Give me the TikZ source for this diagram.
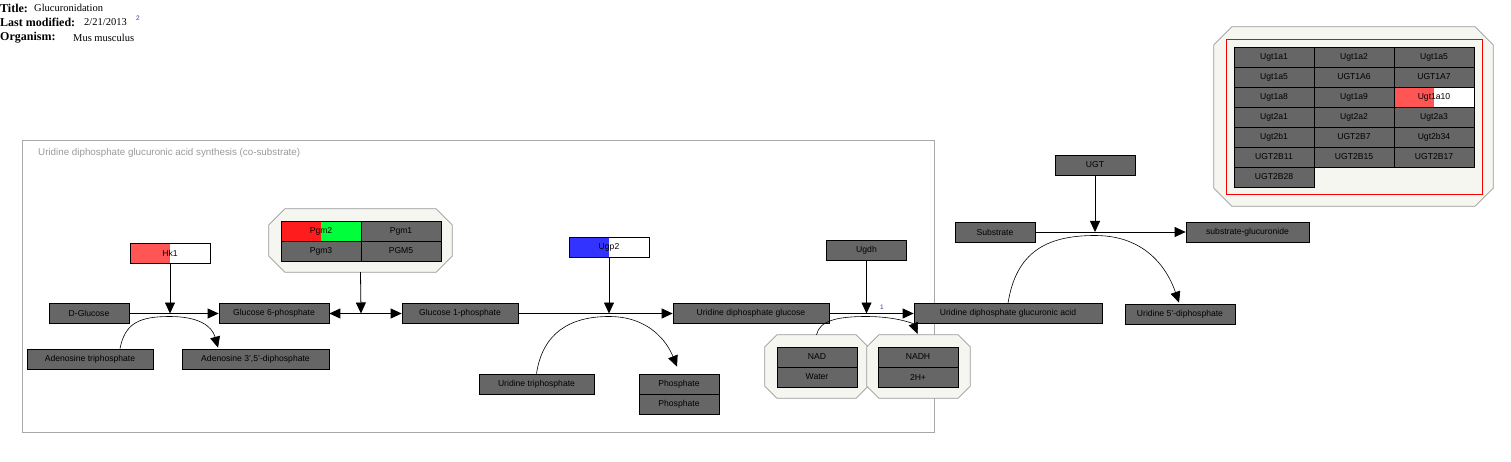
\documentclass[tikz,border=0pt]{standalone}
\usepackage{fontspec}
\setmainfont{Liberation Sans}
\newfontfamily\titlefont{Liberation Serif}
\usetikzlibrary{arrows.meta,calc}
\definecolor{gnode}{HTML}{666666}
\definecolor{hkred}{HTML}{FF5555}
\definecolor{pgred}{HTML}{FF1C1C}
\definecolor{pggreen}{HTML}{00FF3A}
\definecolor{ugblue}{HTML}{3333FF}
\definecolor{grpfill}{HTML}{F6F6F0}
\definecolor{grpline}{HTML}{999999}
\definecolor{bigline}{HTML}{A8A8A8}
\definecolor{lblblue}{HTML}{3333AA}
\newcommand\octoshape[2]{\filldraw[draw=grpline, fill=grpfill, line width=0.7pt]
  ($(#1.north west)+(#2,0)$) -- ($(#1.north east)+(-#2,0)$) -- ($(#1.north east)+(0,#2)$) --
  ($(#1.south east)+(0,-#2)$) -- ($(#1.south east)+(-#2,0)$) -- ($(#1.south west)+(#2,0)$) --
  ($(#1.south west)+(0,-#2)$) -- ($(#1.north west)+(0,#2)$) -- cycle;}
\begin{document}
\begin{tikzpicture}[x=1pt,y=-1pt,
  gene/.style={draw=black, line width=0.7pt, fill=gnode, inner sep=0pt, minimum height=20pt, minimum width=80pt, font=\fontsize{8.6}{9}\selectfont, text=black},
  split/.style={gene, fill=white, path picture={\fill[#1] (path picture bounding box.south west) rectangle (path picture bounding box.north);}},
  grpbox/.style={inner sep=0pt},
  rx/.style={line width=0.8pt, -{Triangle[length=11pt,width=10pt]}},
  arc/.style={line width=0.6pt, -{Triangle[length=11pt,width=10pt]}},
  hdr/.style={anchor=west, inner sep=0pt, font=\titlefont\fontsize{10.5}{12}\selectfont},
  hdrb/.style={anchor=west, inner sep=0pt, font=\titlefont\bfseries\fontsize{12}{13}\selectfont}]
\useasboundingbox (0,0) rectangle (1511,462);

% header
\node[hdrb] (t1) at (0,8) {Title:};
\node[hdr] (t1v) at (34,8) {Glucuronidation};
\node[hdrb] (t2) at (0,22.5) {Last modified:};
\node[hdr] (t2v) at (84,22.5) {2/21/2013};
\node[anchor=west, inner sep=0pt, text=lblblue, font=\fontsize{6.5}{7}\selectfont] (t2s) at (136,18) {2};
\node[hdrb] (t3) at (0,37.5) {Organism:};
\node[hdr] (t3v) at (73,37.5) {Mus musculus};

% big group
\node[draw=bigline, line width=0.7pt, minimum width=912pt, minimum height=292pt, inner sep=0pt] (biggrp) at (478,286) {};
\node[anchor=west, inner sep=0pt, text=grpline, font=\fontsize{9.8}{10}\selectfont] (biglbl) at (38,153) {Uridine diphosphate glucuronic acid synthesis (co-substrate)};

% groups
\node[grpbox, minimum width=183pt, minimum height=63pt] (pgmgrp) at (360.5,240.5) {};
\octoshape{pgmgrp}{16}
\node[grpbox, minimum width=103pt, minimum height=63pt] (nadgrp) at (816.5,366.5) {};
\octoshape{nadgrp}{12}
\node[grpbox, minimum width=103pt, minimum height=63pt] (nadhgrp) at (918.5,366.5) {};
\octoshape{nadhgrp}{12}
\node[grpbox, minimum width=279pt, minimum height=179pt] (ugtgrp) at (1353.5,116.5) {};
\octoshape{ugtgrp}{18}
\node[draw=red, line width=0.8pt, minimum width=256pt, minimum height=155pt, inner sep=0pt] (ugtred) at (1354,116.5) {};

% first reaction
\node[split=hkred] (hk1) at (170,253) {Hk1};
\node[gene] (dglc) at (89,313.5) {D-Glucose};
\node[gene, minimum width=110pt] (g6p) at (274,313.5) {Glucose 6-phosphate};
\node[gene, minimum width=126pt] (atp) at (90,359) {Adenosine triphosphate};
\node[gene, minimum width=147pt] (adp) at (255.5,359) {Adenosine 3',5'-diphosphate};
\coordinate (a1) at (170,313.5);
\draw[rx] (dglc.east) -- (g6p.west);
\draw[rx] (hk1.south) -- (a1);
\draw[arc] ($(atp.north)+(30,0)$) .. controls +(5,-26) and +(-30,0) .. ($(a1)+(0,3)$) .. controls +(28,0) and +(-6,-22) .. ($(adp.north)+(-37.5,-1)$);

% Pgm group cells
\node[gene, path picture={\fill[pggreen] (path picture bounding box.south west) rectangle (path picture bounding box.north east); \fill[pgred] (path picture bounding box.south west) rectangle (path picture bounding box.north);}] (pgm2) at (321,231) {Pgm2};
\node[gene] (pgm1) at (401,231) {Pgm1};
\node[gene] (pgm3) at (321,251) {Pgm3};
\node[gene] (pgm5) at (401,251) {PGM5};
\node[gene, minimum width=116pt] (g1p) at (460,313.5) {Glucose 1-phosphate};
\coordinate (a2) at (361,313.5);
\draw[rx] (a2) -- (g6p.east);
\draw[rx] (a2) -- (g1p.west);
\draw[rx] (pgmgrp.south) -- (a2);

% Ugp2 reaction
\node[split=ugblue] (ugp2) at (609,247) {Ugp2};
\node[gene, minimum width=156pt] (udpg) at (751,313.5) {Uridine diphosphate glucose};
\node[gene, minimum width=115pt] (utp) at (536.5,384) {Uridine triphosphate};
\node[gene] (pho1) at (679,384) {Phosphate};
\node[gene] (pho2) at (679,404) {Phosphate};
\coordinate (a3) at (609,313.5);
\draw[rx] (g1p.east) -- (udpg.west);
\draw[rx] (ugp2.south) -- (a3);
\draw[arc] (utp.north) .. controls +(6,-40) and +(-40,0) .. ($(a3)+(0,3)$) .. controls +(40,0) and +(-10,-25) .. ($(pho1.north)+(-2,-7)$);

% Ugdh reaction
\node[gene] (ugdh) at (866.5,250) {Ugdh};
\node[gene, minimum width=188pt] (udpga) at (1008,313.5) {Uridine diphosphate glucuronic acid};
\node[gene] (nad) at (817,357) {NAD};
\node[gene] (water) at (817,377) {Water};
\node[gene] (nadh) at (918,357) {NADH};
\node[gene] (hplus) at (918,377) {2H+};
\coordinate (a4) at (866.5,313.5);
\draw[rx] (udpg.east) -- (udpga.west);
\draw[rx] (ugdh.south) -- (a4);
\node[inner sep=0pt, text=lblblue, font=\fontsize{6.5}{7}\selectfont] (lbl1) at (882,307) {1};
\draw[arc] (nadgrp.north) .. controls +(3,-14) and +(-30,0) .. ($(a4)+(0,3)$) .. controls +(30,0) and +(-4,-10) .. ($(nadhgrp.north)+(-1,-1)$);

% UGT reaction
\node[gene] (ugt) at (1095,165) {UGT};
\node[gene] (subs) at (995,232) {Substrate};
\node[gene, minimum width=123pt] (subsg) at (1247.5,232) {substrate-glucuronide};
\node[gene, minimum width=110pt] (u5dp) at (1180,314) {Uridine 5'-diphosphate};
\coordinate (a5) at (1095,232);
\draw[rx] (subs.east) -- (subsg.west);
\draw[rx] (ugt.south) -- (a5);
\draw[arc] (udpga.north) .. controls +(8,-50) and +(-50,0) .. ($(a5)+(0,3.5)$) .. controls +(50,0) and +(-12,-35) .. ($(u5dp.north)+(-1,-1)$);

% UGT table
\node[gene] (u11) at (1274,57) {Ugt1a1};
\node[gene] (u12) at (1354,57) {Ugt1a2};
\node[gene] (u13) at (1434,57) {Ugt1a5};
\node[gene] (u21) at (1274,77) {Ugt1a5};
\node[gene] (u22) at (1354,77) {UGT1A6};
\node[gene] (u23) at (1434,77) {UGT1A7};
\node[gene] (u31) at (1274,97) {Ugt1a8};
\node[gene] (u32) at (1354,97) {Ugt1a9};
\node[split=hkred] (u33) at (1434,97) {Ugt1a10};
\node[gene] (u41) at (1274,117) {Ugt2a1};
\node[gene] (u42) at (1354,117) {Ugt2a2};
\node[gene] (u43) at (1434,117) {Ugt2a3};
\node[gene] (u51) at (1274,137) {Ugt2b1};
\node[gene] (u52) at (1354,137) {UGT2B7};
\node[gene] (u53) at (1434,137) {Ugt2b34};
\node[gene] (u61) at (1274,157) {UGT2B11};
\node[gene] (u62) at (1354,157) {UGT2B15};
\node[gene] (u63) at (1434,157) {UGT2B17};
\node[gene] (u71) at (1274,177) {UGT2B28};
\end{tikzpicture}
\end{document}
